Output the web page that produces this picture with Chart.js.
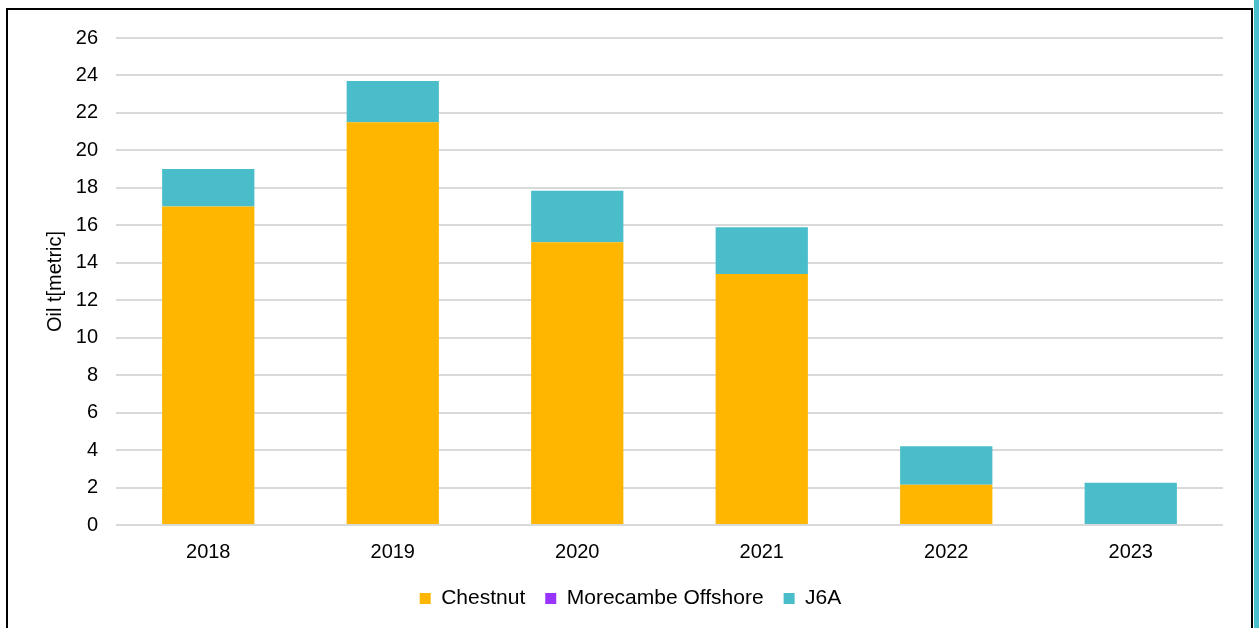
<!DOCTYPE html>
<html>
<head>
<meta charset="utf-8">
<script src="https://cdn.jsdelivr.net/npm/chart.js@4"></script>
<style>
  html, body { margin: 0; padding: 0; background: #fff; overflow: hidden; }
  #frame {
    position: absolute; left: 6px; top: 8px; width: 1243px; height: 640px;
    border: 2px solid #000; border-bottom: none;
  }
  #edge { position: absolute; left: 1254px; top: 0; width: 5px; height: 628px; background: #4bbfcc; }
  canvas { position: absolute; left: 0; top: 0; }
</style>
</head>
<body>
<div id="frame"></div>
<div id="edge"></div>
<canvas id="oilChart" width="1259" height="628"></canvas>
<script>
const years = ['2018', '2019', '2020', '2021', '2022', '2023'];
const chestnut = [17.0, 21.5, 15.1, 13.4, 2.15, 0];
const morecambe = [0, 0, 0, 0, 0, 0];
const j6a = [2.0, 2.2, 2.75, 2.5, 2.05, 2.25];

const font = { family: '"Liberation Sans", Arial, sans-serif', size: 20 };
const legendFont = { family: '"Liberation Sans", Arial, sans-serif', size: 21 };

new Chart(document.getElementById('oilChart'), {
  type: 'bar',
  data: {
    labels: years,
    datasets: [
      { label: 'Chestnut', data: chestnut, backgroundColor: '#ffb600' },
      { label: 'Morecambe Offshore', data: morecambe, backgroundColor: '#9933ff' },
      { label: 'J6A', data: j6a, backgroundColor: '#4abdcb' },
    ],
  },
  options: {
    responsive: false,
    animation: false,
    categoryPercentage: 1,
    barPercentage: 0.5,
    layout: { padding: { left: 38, right: 36, top: 38, bottom: 9 } },
    plugins: {
      legend: {
        position: 'bottom',
        labels: { font: legendFont, color: '#000', boxWidth: 11, boxHeight: 11, padding: 20 },
      },
      tooltip: { enabled: false },
    },
    scales: {
      x: {
        stacked: true,
        grid: { display: false },
        border: { display: false },
        ticks: { font, color: '#000', padding: 7 },
        afterFit: (scale) => { scale.height = 43; },
      },
      y: {
        stacked: true,
        min: 0,
        max: 26,
        ticks: { stepSize: 2, font, color: '#000', padding: 18 },
        grid: { color: '#d9d9d9', lineWidth: 2, drawTicks: false },
        border: { display: false },
        title: { display: true, text: 'Oil t[metric]', font, color: '#000', padding: { top: 5, bottom: 0 } },
        afterFit: (scale) => { scale.width = 78; },
      },
    },
  },
});
</script>
</body>
</html>
